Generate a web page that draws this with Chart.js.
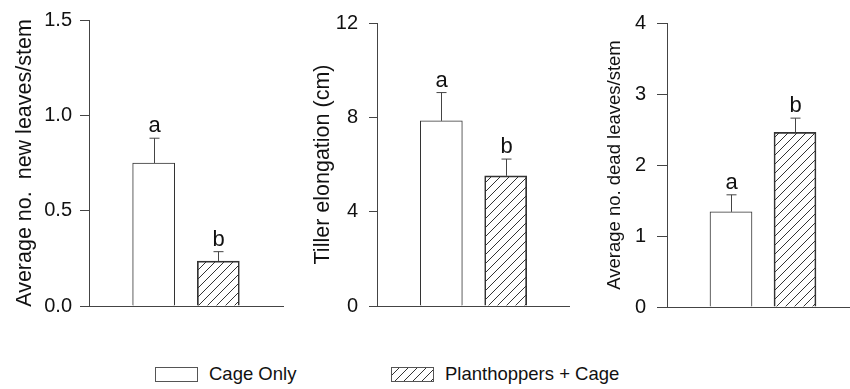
<!DOCTYPE html>
<html>
<head>
<meta charset="utf-8">
<script src="https://cdn.jsdelivr.net/npm/chart.js@4.4.0/dist/chart.umd.min.js"></script>
<style>
  html, body { margin: 0; padding: 0; background: #fff; overflow: hidden; }
  body { width: 850px; height: 389px; position: relative; font-family: "Liberation Sans", Arial, sans-serif; color: #111; }
  canvas.panel { position: absolute; top: 0; }
  .legend { position: absolute; top: 363px; display: flex; align-items: center; font-size: 18.5px; }
  .legend canvas { margin-right: 11px; }
</style>
</head>
<body>
<canvas id="p1" class="panel" width="290" height="336" style="left:0px"></canvas>
<canvas id="p2" class="panel" width="280" height="336" style="left:290px"></canvas>
<canvas id="p3" class="panel" width="289" height="336" style="left:570px"></canvas>
<div class="legend" style="left:155px"><canvas id="sw1" width="43" height="15"></canvas><span>Cage Only</span></div>
<div class="legend" style="left:391px"><canvas id="sw2" width="43" height="15"></canvas><span>Planthoppers + Cage</span></div>
<script>
// data
var categories = ['Cage Only', 'Planthoppers + Cage'];
var sigLetters = ['a', 'b'];

var newLeaves = [0.75, 0.235];
var newLeavesErr = [0.13, 0.05];

var tillerElong = [7.85, 5.52];
var tillerElongErr = [1.2, 0.71];

var deadLeaves = [1.34, 2.46];
var deadLeavesErr = [0.24, 0.2];

var FONT = '"Liberation Sans", Arial, sans-serif';
var INK = '#111';
var LINE = '#444';

function hatch() {
  var c = document.createElement('canvas');
  c.width = 9; c.height = 9;
  var g = c.getContext('2d');
  g.strokeStyle = '#333'; g.lineWidth = 1;
  g.beginPath();
  g.moveTo(-1, 10); g.lineTo(10, -1);
  g.moveTo(-5, 5); g.lineTo(5, -5);
  g.moveTo(4, 14); g.lineTo(14, 4);
  g.stroke();
  return g.createPattern(c, 'repeat');
}

// error bars (upper only) + significance letters
var errPlugin = {
  id: 'errLetters',
  afterDatasetsDraw: function (chart) {
    var ctx = chart.ctx, ys = chart.scales.y;
    var errs = chart.options.plugins.errLetters.errors;
    var meta = chart.getDatasetMeta(0);
    var vals = chart.data.datasets[0].data;
    ctx.save();
    ctx.strokeStyle = LINE; ctx.lineWidth = 1;
    ctx.fillStyle = INK;
    ctx.font = '22px ' + FONT;
    ctx.textAlign = 'center'; ctx.textBaseline = 'alphabetic';
    var k = 0;
    meta.data.forEach(function (el, i) {
      if (vals[i] == null) return;
      var x = Math.round(el.x) + 0.5;
      var top = ys.getPixelForValue(vals[i] + errs[k]);
      ctx.beginPath();
      ctx.moveTo(x, el.y); ctx.lineTo(x, top);
      ctx.moveTo(x - 5, top); ctx.lineTo(x + 5, top);
      ctx.stroke();
      ctx.fillText(sigLetters[k], x, top - 6);
      k++;
    });
    ctx.restore();
  }
};

function makePanel(id, o) {
  var labels = [''].concat(categories, ['']);
  var data = [null].concat(o.values, [null]);
  return new Chart(document.getElementById(id), {
    type: 'bar',
    data: {
      labels: labels,
      datasets: [{
        data: data,
        backgroundColor: ['#fff', '#fff', hatch(), '#fff'],
        borderColor: '#333', borderWidth: 1,
        barThickness: 42
      }]
    },
    plugins: [errPlugin],
    options: {
      responsive: false, animation: false,
      layout: { padding: { top: o.top, right: o.right, left: 0, bottom: 0 } },
      plugins: {
        legend: { display: false }, tooltip: { enabled: false },
        errLetters: { errors: o.errors }
      },
      scales: {
        x: {
          offset: false,
          grid: { display: false },
          ticks: { display: false },
          border: { display: true, color: LINE, width: 1 },
          afterFit: function (s) { s.height = 336 - o.bottom; }
        },
        y: {
          min: 0, max: o.max,
          grid: { drawOnChartArea: false, drawTicks: true, tickLength: o.tick, tickColor: LINE, color: LINE },
          border: { display: true, color: LINE, width: 1 },
          ticks: {
            stepSize: o.step, color: INK, padding: o.pad,
            font: { family: FONT, size: 20 },
            callback: function (v) { return o.dec ? v.toFixed(o.dec) : v; }
          },
          title: {
            display: true, text: o.title, color: INK,
            font: { family: FONT, size: o.titleSize },
            padding: { top: o.titlePad, bottom: 0 }
          },
          afterFit: function (s) { s.width = o.yw; }
        }
      }
    }
  });
}

makePanel('p1', {
  values: newLeaves, errors: newLeavesErr, max: 1.5, step: 0.5, dec: 1,
  title: 'Average no.  new leaves/stem', titleSize: 21.5, titlePad: 12,
  top: 17, right: 7, bottom: 306, yw: 89, tick: 9, pad: 8
});
makePanel('p2', {
  values: tillerElong, errors: tillerElongErr, max: 12, step: 4, dec: 0,
  title: 'Tiller elongation (cm)', titleSize: 21.5, titlePad: 20,
  top: 17, right: 0, bottom: 306, yw: 87, tick: 8, pad: 11
});
makePanel('p3', {
  values: deadLeaves, errors: deadLeavesErr, max: 4, step: 1, dec: 0,
  title: 'Average no. dead leaves/stem', titleSize: 18.5, titlePad: 34,
  top: 18, right: 0, bottom: 307, yw: 97, tick: 10, pad: 11
});

// legend swatches
function swatch(id, fill) {
  var g = document.getElementById(id).getContext('2d');
  g.fillStyle = fill; g.fillRect(0.5, 0.5, 42, 14);
  g.strokeStyle = '#555'; g.lineWidth = 1; g.strokeRect(0.5, 0.5, 42, 14);
}
swatch('sw1', '#fff');
swatch('sw2', hatch());
</script>
</body>
</html>
